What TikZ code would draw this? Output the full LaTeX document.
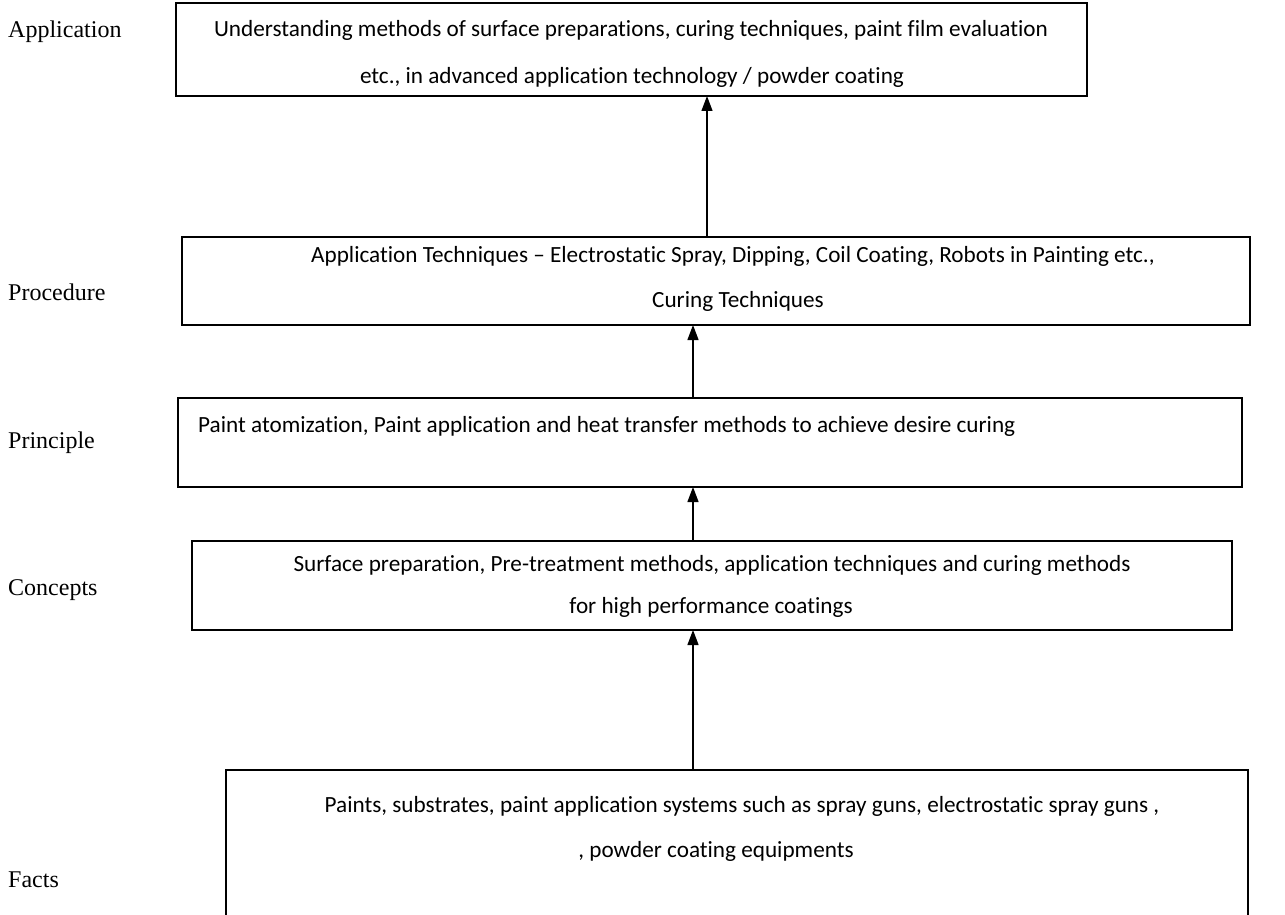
\documentclass[tikz,border=0pt]{standalone}
\usepackage{fontspec}
\setmainfont[Ligatures=NoCommon]{Carlito}
\newfontfamily\labelfont{Liberation Serif}
\usetikzlibrary{arrows.meta}
\begin{document}
\begin{tikzpicture}[x=1pt,y=-1pt,
  box/.style={draw, line width=1.3pt, inner sep=0pt, outer sep=0pt, rectangle},
  txt/.style={inner sep=0pt, font=\fontsize{23.2}{27}\selectfont},
  lvl/.style={inner sep=0pt, anchor=west, font=\labelfont\fontsize{24}{28}\selectfont},
  arr/.style={line width=1.3pt, -{Triangle[width=11pt,length=15pt]}}]
\useasboundingbox (0,0) rectangle (1285,915);
\clip (0,0) rectangle (1285,915);
% boxes
\node[box, minimum width=911pt, minimum height=93pt] (A) at (631.5,49.5) {};
\node[box, minimum width=1068pt, minimum height=88pt] (Pr) at (716,281) {};
\node[box, minimum width=1064pt, minimum height=89pt] (Pi) at (710,442.5) {};
\node[box, minimum width=1040pt, minimum height=89pt] (C) at (712,585.5) {};
\node[box, minimum width=1022pt, minimum height=160pt] (F) at (737,850) {};
% box texts
\node[txt] (A1) at (631,30) {Understanding methods of surface preparations, curing techniques, paint film evaluation};
\node[txt] (A2) at (632,77) {etc., in advanced application technology / powder coating};
\node[txt] (Pr1) at (733,256) {Application Techniques – Electrostatic Spray, Dipping, Coil Coating, Robots in Painting etc.,};
\node[txt] (Pr2) at (738,301) {Curing Techniques};
\node[txt, anchor=west] (Pi1) at (198,426) {Paint atomization, Paint application and heat transfer methods to achieve desire curing};
\node[txt] (C1) at (712,565) {Surface preparation, Pre-treatment methods, application techniques and curing methods};
\node[txt] (C2) at (711,607) {for high performance coatings};
\node[txt] (F1) at (742,806) {Paints, substrates, paint application systems such as spray guns, electrostatic spray guns ,};
\node[txt] (F2) at (716,851) {, powder coating equipments};
% level labels
\node[lvl] (LA) at (8,32) {Application};
\node[lvl] (LPr) at (8,292) {Procedure};
\node[lvl] (LPi) at (8,443) {Principle};
\node[lvl] (LC) at (8,590) {Concepts};
\node[lvl] (LF) at (8,880) {Facts};
% arrows
\coordinate (xa) at (707,0);
\coordinate (xb) at (693,0);
\draw[arr] (xa |- Pr.north) -- (xa |- A.south);
\draw[arr] (xb |- Pi.north) -- (xb |- Pr.south);
\draw[arr] (xb |- C.north) -- (xb |- Pi.south);
\draw[arr] (xb |- F.north) -- (xb |- C.south);
\end{tikzpicture}
\end{document}
